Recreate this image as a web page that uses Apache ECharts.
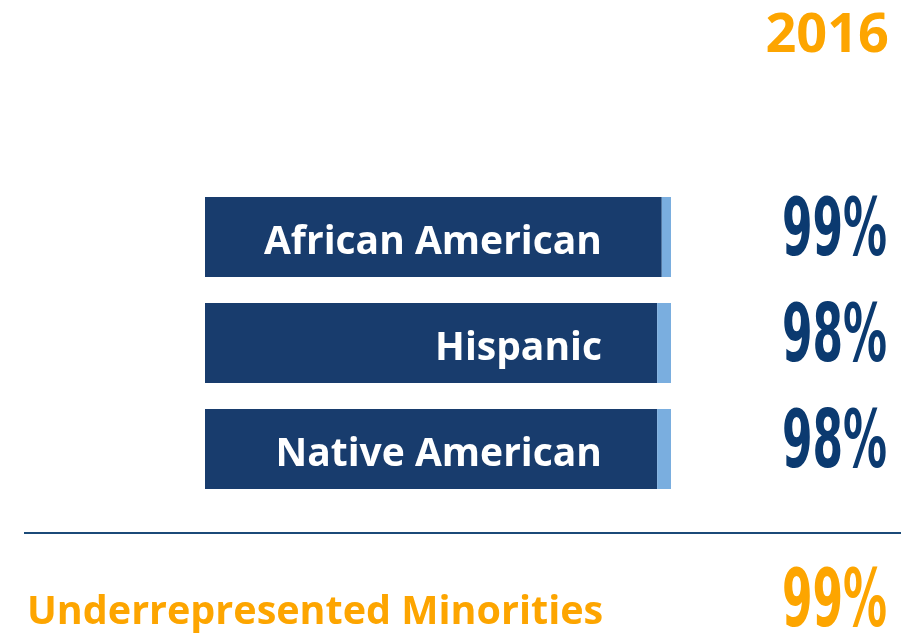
<!DOCTYPE html>
<html>
<head>
<meta charset="utf-8">
<script src="https://cdn.jsdelivr.net/npm/echarts@6/dist/echarts.min.js"></script>
<style>
  html, body { margin: 0; padding: 0; background: #fff; }
  #chart { width: 901px; height: 633px; }
</style>
</head>
<body>
<div id="chart"></div>
<script>
'use strict';

// data
const year = '2016';
const groups = ['African American', 'Hispanic', 'Native American'];
const rates = [99, 98, 98];        // dark part
const margins = [2, 3, 3];         // light blue sliver after the dark part
const totalLabel = 'Underrepresented Minorities';
const totalRate = 99;

const navy = '#183c6d';
const sky = '#7aaedf';
const numNavy = '#0b3a70';
const orange = '#fda500';
const numFont = '"Liberation Sans Narrow", "DejaVu Sans Condensed", sans-serif';
const numScale = 0.61;

window.addEventListener('load', () => {
    const chart = echarts.init(document.getElementById('chart'));

    let option = {
        animation: false,
        title: {
            text: year,
            right: 7,
            top: 5,
            textStyle: { color: orange, fontSize: 54, fontWeight: 'bold', fontFamily: 'Open Sans' }
        },
        grid: { left: 205, top: 184, width: 466, height: 318 },
        xAxis: {
            type: 'value', min: 0, max: 101,
            show: false
        },
        yAxis: {
            type: 'category',
            data: groups,
            inverse: true,
            z: 10,
            axisLine: { show: false },
            axisTick: { show: false },
            axisLabel: {
                inside: true,
                align: 'right',
                verticalAlign: 'top',
                lineHeight: 39,
                margin: 397,
                padding: [-14, 0, 0, 0],
                color: '#fff',
                fontSize: 39,
                fontWeight: 'bold',
                fontFamily: 'Open Sans'
            }
        },
        series: [
            {
                type: 'bar', stack: 'all', barWidth: 80,
                itemStyle: { color: navy },
                data: rates
            },
            {
                type: 'bar', stack: 'all', barWidth: 80,
                itemStyle: { color: sky },
                data: margins
            },
            {
                // percentage column on the right
                type: 'custom',
                data: rates.map((v, i) => [v, i]),
                renderItem: (params, api) => {
                    const p = api.coord([0, api.value(1)]);
                    return {
                        type: 'text',
                        x: api.getWidth() - 14,
                        y: p[1] - 3,
                        scaleX: numScale,
                        style: {
                            text: api.value(0) + '%',
                            fill: numNavy,
                            font: 'bold 80px ' + numFont,
                            align: 'right',
                            verticalAlign: 'middle'
                        }
                    };
                }
            }
        ],
        graphic: [
            {
                type: 'line',
                shape: { x1: 24, y1: 533, x2: 901, y2: 533 },
                style: { stroke: '#1b4a78', lineWidth: 2 }
            },
            {
                type: 'text',
                left: 27, top: 593,
                style: {
                    text: totalLabel,
                    fill: orange,
                    font: 'bold 39.5px "Open Sans"'
                }
            },
            {
                type: 'text',
                x: 887, y: 605,
                scaleX: numScale,
                style: {
                    text: totalRate + '%',
                    fill: orange,
                    font: 'bold 80px ' + numFont,
                    align: 'right',
                    verticalAlign: 'middle'
                }
            }
        ]
    };

    chart.setOption(option);
});
</script>
</body>
</html>
